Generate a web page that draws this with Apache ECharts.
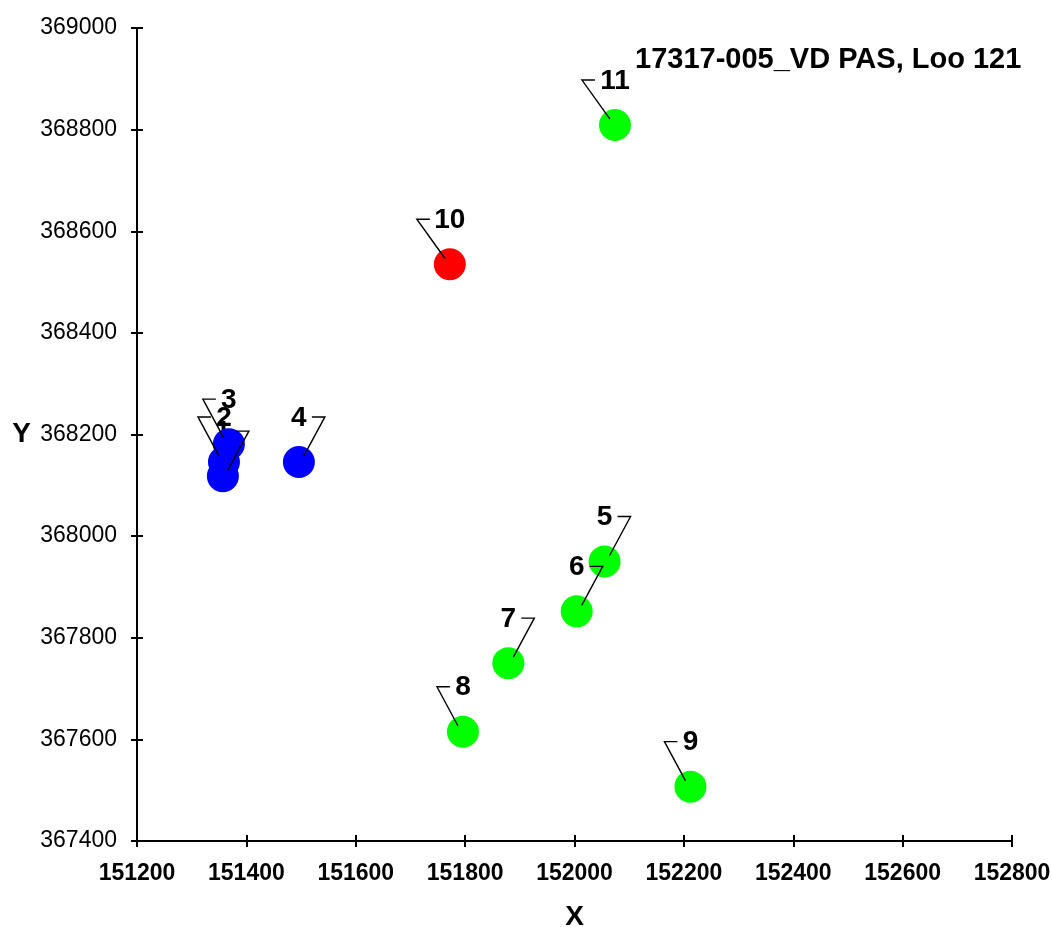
<!DOCTYPE html>
<html>
<head>
<meta charset="utf-8">
<script src="https://cdn.jsdelivr.net/npm/echarts@6/dist/echarts.min.js"></script>
<style>
html,body{margin:0;padding:0;background:#fff;overflow:hidden;}
#chart{width:1052px;height:927px;}
</style>
</head>
<body>
<div id="chart"></div>
<script>
// ---- data ----
const pointIds = ['1','2','3','4','5','6','7','8','9','10','11'];
const xValues = [151357, 151359, 151368, 151496, 152055, 152004, 151879, 151796, 152212, 151772, 152074];
const yValues = [368118, 368146, 368181, 368146, 367950, 367852, 367750, 367615, 367507, 368535, 368809];
const pointGroup = ['blue','blue','blue','blue','green','green','green','green','green','red','green'];
const xTicks = [151200, 151400, 151600, 151800, 152000, 152200, 152400, 152600, 152800];
const yTicks = [367400, 367600, 367800, 368000, 368200, 368400, 368600, 368800, 369000];
const chartTitle = '17317-005_VD PAS, Loo 121';

// ---- layout / style ----
const groupColors = {blue:'#0000ff', green:'#00ff00', red:'#ff0000'};
const leaderSide = {'1':'right','2':'left','3':'left','4':'right','5':'right','6':'right','7':'right','8':'left','9':'left','10':'left','11':'left'};
const FONT = '"Liberation Sans", Arial, sans-serif';

const points = xValues.map((x, i) => [x, yValues[i]]);

function axisPair(isX, ticks) {
  const base = {
    type: 'value',
    min: ticks[0],
    max: ticks[ticks.length - 1],
    interval: ticks[1] - ticks[0],
    splitLine: {show: false},
    position: isX ? 'bottom' : 'left',
    offset: 0
  };
  const main = Object.assign({}, base, {
    axisLine: {show: true, onZero: false, lineStyle: {color: '#000', width: 2}},
    axisTick: {show: true, inside: false, length: 6, lineStyle: {color: '#000', width: 2}},
    axisLabel: isX
      ? {show: true, margin: 21, color: '#000', fontSize: 23, fontWeight: 'bold', fontFamily: FONT, formatter: v => String(v)}
      : {show: true, margin: 20, color: '#000', fontSize: 23, fontFamily: FONT, formatter: v => String(v)},
    name: isX ? 'X' : 'Y',
    nameLocation: 'middle',
    nameRotate: 0,
    nameGap: isX ? 62 : 106,
    nameTextStyle: {color: '#000', fontSize: 28, fontWeight: 'bold', fontFamily: FONT}
  });
  const inner = Object.assign({}, base, {
    axisLine: {show: false, onZero: false},
    axisTick: {show: true, inside: true, length: 6, lineStyle: {color: '#000', width: 2}},
    axisLabel: {show: false}
  });
  return [main, inner];
}

const scatterSeries = Object.keys(groupColors).map(g => ({
  type: 'scatter',
  name: g,
  z: 3,
  symbol: 'circle',
  symbolSize: 32,
  itemStyle: {color: groupColors[g], opacity: 1},
  data: points.filter((p, i) => pointGroup[i] === g),
  xAxisIndex: 0,
  yAxisIndex: 0
}));

const labelSeries = {
  type: 'custom',
  z: 2,
  clip: false,
  xAxisIndex: 0,
  yAxisIndex: 0,
  data: points,
  renderItem: function (params, api) {
    const p = api.coord([api.value(0), api.value(1)]);
    return {
      type: 'text',
      style: {
        text: pointIds[params.dataIndex],
        x: p[0], y: p[1] - 44,
        align: 'center', verticalAlign: 'middle',
        fontSize: 28, fontWeight: 'bold', fontFamily: FONT,
        fill: '#000'
      }
    };
  }
};

const leaderSeries = {
  type: 'custom',
  z: 5,
  clip: false,
  xAxisIndex: 0,
  yAxisIndex: 0,
  data: points,
  renderItem: function (params, api) {
    const p = api.coord([api.value(0), api.value(1)]);
    const id = pointIds[params.dataIndex];
    const extra = id.length > 1 ? 7 : 0;
    const dir = leaderSide[id] === 'left' ? -1 : 1;
    const by = p[1] - 45;
    const far = p[0] + dir * (26 + extra);
    const near = p[0] + dir * (13 + extra);
    return {
      type: 'polyline',
      shape: {points: [[p[0] + dir * 5, p[1] - 6], [far, by], [near, by]]},
      style: {stroke: '#000', lineWidth: 1.4, fill: null}
    };
  }
};

const chart = echarts.init(document.getElementById('chart'), null, {width: 1052, height: 927});
chart.setOption({
  backgroundColor: '#fff',
  animation: false,
  title: {
    text: chartTitle,
    left: 630,
    top: 40,
    textStyle: {color: '#000', fontSize: 29, fontWeight: 'bold', fontFamily: FONT}
  },
  grid: {left: 137, right: 40, top: 28, bottom: 86, containLabel: false, outerBoundsMode: 'none'},
  xAxis: axisPair(true, xTicks),
  yAxis: axisPair(false, yTicks),
  series: scatterSeries.concat([labelSeries, leaderSeries])
});
</script>
</body>
</html>
